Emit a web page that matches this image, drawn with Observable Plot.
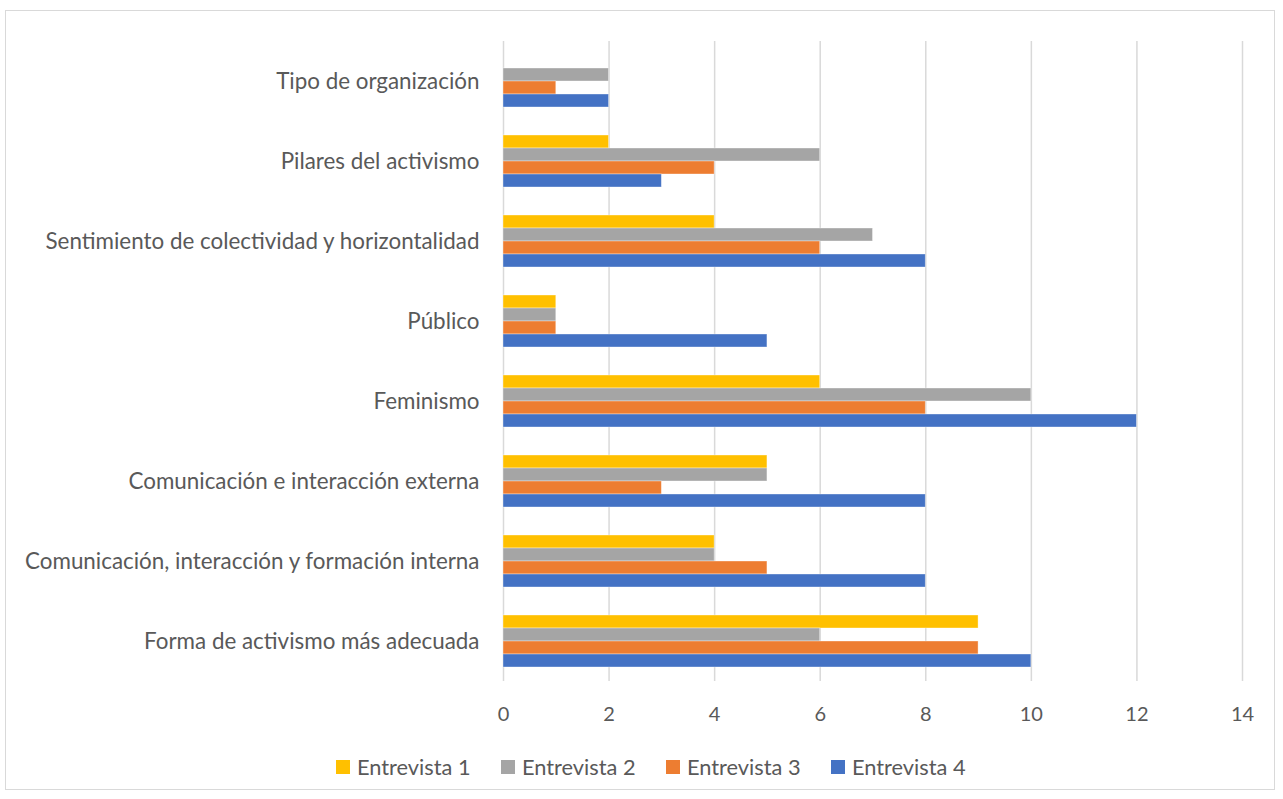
<!DOCTYPE html>
<html>
<head>
<meta charset="utf-8">
<script src="https://cdn.jsdelivr.net/npm/d3@7"></script>
<script src="https://cdn.jsdelivr.net/npm/@observablehq/plot@0.6"></script>
<style>
  html, body { margin: 0; padding: 0; background: #fff; }
  #wrap { position: relative; width: 1283px; height: 799px; overflow: hidden; font-family: Lato, "Open Sans", sans-serif; color: #595959; }
  #frame { position: absolute; left: 5px; top: 10px; width: 1270px; height: 780px; border: 1px solid #d9d9d9; box-sizing: border-box; }
  #chart { position: absolute; left: 0; top: 0; }
  #legend { position: absolute; left: 336px; top: 754px; display: flex; font-size: 21.8px; line-height: 26px; }
  .item { display: flex; align-items: center; width: 165px; }
  .sw { width: 14px; height: 14px; margin-right: 7px; flex: none; }
</style>
</head>
<body>
<div id="wrap">
  <div id="frame"></div>
  <div id="chart"></div>
  <div id="legend"></div>
</div>
<script>
const categories = [
  "Tipo de organización",
  "Pilares del activismo",
  "Sentimiento de colectividad y horizontalidad",
  "Público",
  "Feminismo",
  "Comunicación e interacción externa",
  "Comunicación, interacción y formación interna",
  "Forma de activismo más adecuada"
];
const series = ["Entrevista 1", "Entrevista 2", "Entrevista 3", "Entrevista 4"];
const colors = ["#FFC000", "#A5A5A5", "#ED7D31", "#4472C4"];
const entrevista1 = [0, 2, 4, 1, 6, 5, 4, 9];
const entrevista2 = [2, 6, 7, 1, 10, 5, 4, 6];
const entrevista3 = [1, 4, 6, 1, 8, 3, 5, 9];
const entrevista4 = [2, 3, 8, 5, 12, 8, 8, 10];
const xTicks = [0, 2, 4, 6, 8, 10, 12, 14];

const valuesBySeries = [entrevista1, entrevista2, entrevista3, entrevista4];
const data = [];
categories.forEach((c, i) => {
  series.forEach((s, j) => {
    data.push({cat: c, serie: s, value: valuesBySeries[j][i]});
  });
});

const chart = Plot.plot({
  width: 1283,
  height: 745,
  marginLeft: 503,
  marginRight: 41,
  marginTop: 40,
  marginBottom: 64,
  style: {fontFamily: "Lato, 'Open Sans', sans-serif", color: "#595959", background: "transparent"},
  x: {domain: [0, 14], label: null},
  fy: {domain: categories, padding: 0, label: null},
  y: {domain: series, axis: null, paddingInner: 0, paddingOuter: 0.97},
  color: {domain: series, range: colors},
  marks: [
    Plot.gridX(xTicks, {stroke: "#d9d9d9", strokeOpacity: 1, strokeWidth: 1.5}),
    Plot.barX(data.filter(d => d.value > 0), {x: "value", y: "serie", fy: "cat", fill: "serie", stroke: "#ffffff", strokeOpacity: 0.45, strokeWidth: 0.8}),
    Plot.axisX({ticks: xTicks, tickSize: 0, tickPadding: 25, fontSize: 20, label: null}),
    Plot.axisFy({anchor: "left", tickSize: 0, tickPadding: 24, fontSize: 22.4, label: null})
  ]
});
document.getElementById("chart").appendChild(chart);

const legend = document.getElementById("legend");
series.forEach((s, j) => {
  const it = document.createElement("div");
  it.className = "item";
  const sw = document.createElement("div");
  sw.className = "sw";
  sw.style.background = colors[j];
  const tx = document.createElement("span");
  tx.textContent = s;
  it.appendChild(sw);
  it.appendChild(tx);
  legend.appendChild(it);
});
</script>
</body>
</html>
